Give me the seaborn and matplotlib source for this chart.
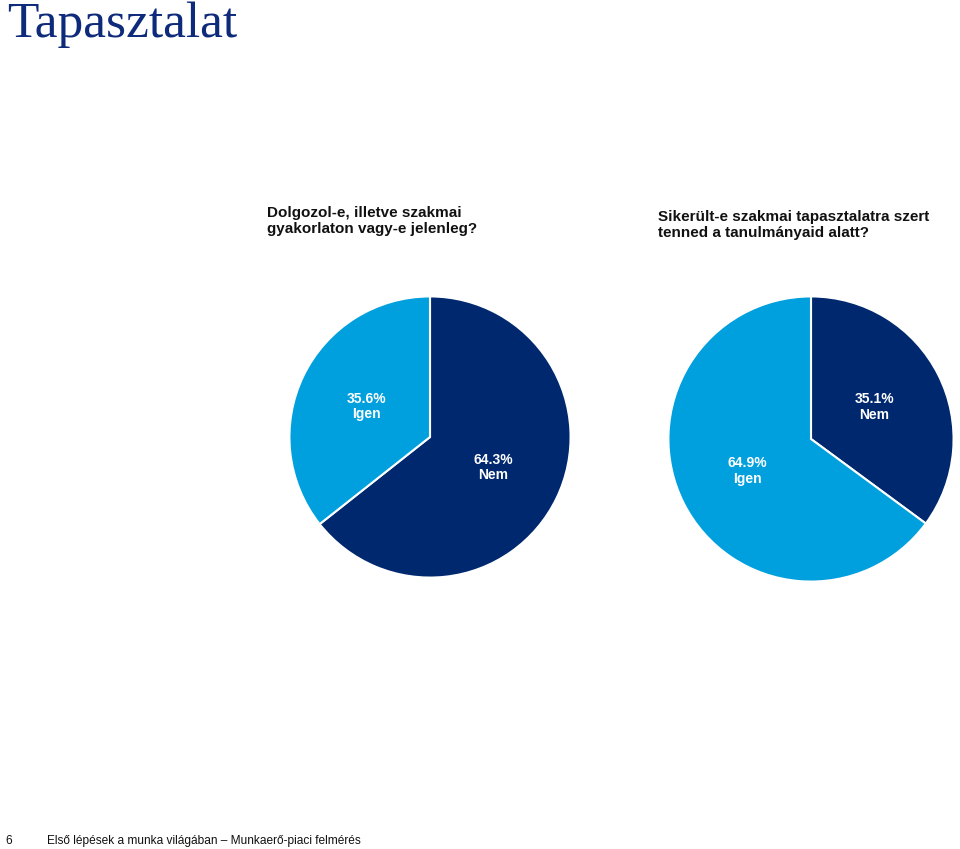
import matplotlib
matplotlib.use("Agg")
import matplotlib.pyplot as plt
import seaborn as sns

sns.set_theme(style="white")
plt.rcParams['font.family'] = ['Liberation Sans', 'DejaVu Sans']

# Data
labels1 = ["Nem", "Igen"]
values1 = [64.3, 35.6]
labels2 = ["Nem", "Igen"]
values2 = [35.1, 64.9]
title_text = "Tapasztalat"
q1 = "Dolgozol-e, illetve szakmai\ngyakorlaton vagy-e jelenleg?"
q2 = "Sikerült-e szakmai tapasztalatra szert\ntenned a tanulmányaid alatt?"
footer_num = "6"
footer_text = "Első lépések a munka világában – Munkaerő-piaci felmérés"

dark = "#00286F"
light = "#00A0DE"
col_map = {"Nem": dark, "Igen": light}

W, H = 960, 849
fig = plt.figure(figsize=(W / 100, H / 100), dpi=100)
fig.patch.set_facecolor("white")

def px_axes(cx, cy, r):
    return fig.add_axes([(cx - r) / W, (H - (cy + r)) / H, 2 * r / W, 2 * r / H])

def draw_pie(ax, labels, values):
    ax.pie(values, colors=[col_map[l] for l in labels], startangle=90,
           counterclock=False, radius=1,
           wedgeprops=dict(edgecolor="white", linewidth=1.5),
           labels=[f"{v:.1f}%\n{l}" for v, l in zip(values, labels)],
           labeldistance=0.5,
           textprops=dict(color="white", fontsize=10, fontweight="bold",
                          ha="center", va="center", linespacing=1.15))
    ax.set_xlim(-1.003, 1.003)
    ax.set_ylim(-1.003, 1.003)
    ax.set_aspect("equal")
    ax.axis("off")

ax1 = px_axes(430, 437, 141)
draw_pie(ax1, labels1, values1)
ax2 = px_axes(811, 439, 143)
draw_pie(ax2, labels2, values2)

fig.text(7 / W, 1 - 25 / H, title_text, family=["Liberation Serif", "DejaVu Serif"],
         fontsize=37, color="#0E2A7B", ha="left", va="center")
fig.text(267 / W, 1 - 221 / H, q1, fontsize=11, fontweight="bold",
         color="#111111", ha="left", va="center", linespacing=1.1)
fig.text(658 / W, 1 - 225 / H, q2, fontsize=11, fontweight="bold",
         color="#111111", ha="left", va="center", linespacing=1.25)
fig.text(5 / W, 1 - 841 / H, footer_num, fontsize=8.6, color="#111111",
         ha="left", va="center")
fig.text(47 / W, 1 - 841 / H, footer_text, fontsize=8.6, color="#111111",
         ha="left", va="center")

fig.savefig("out.png", dpi=100, facecolor="white")
